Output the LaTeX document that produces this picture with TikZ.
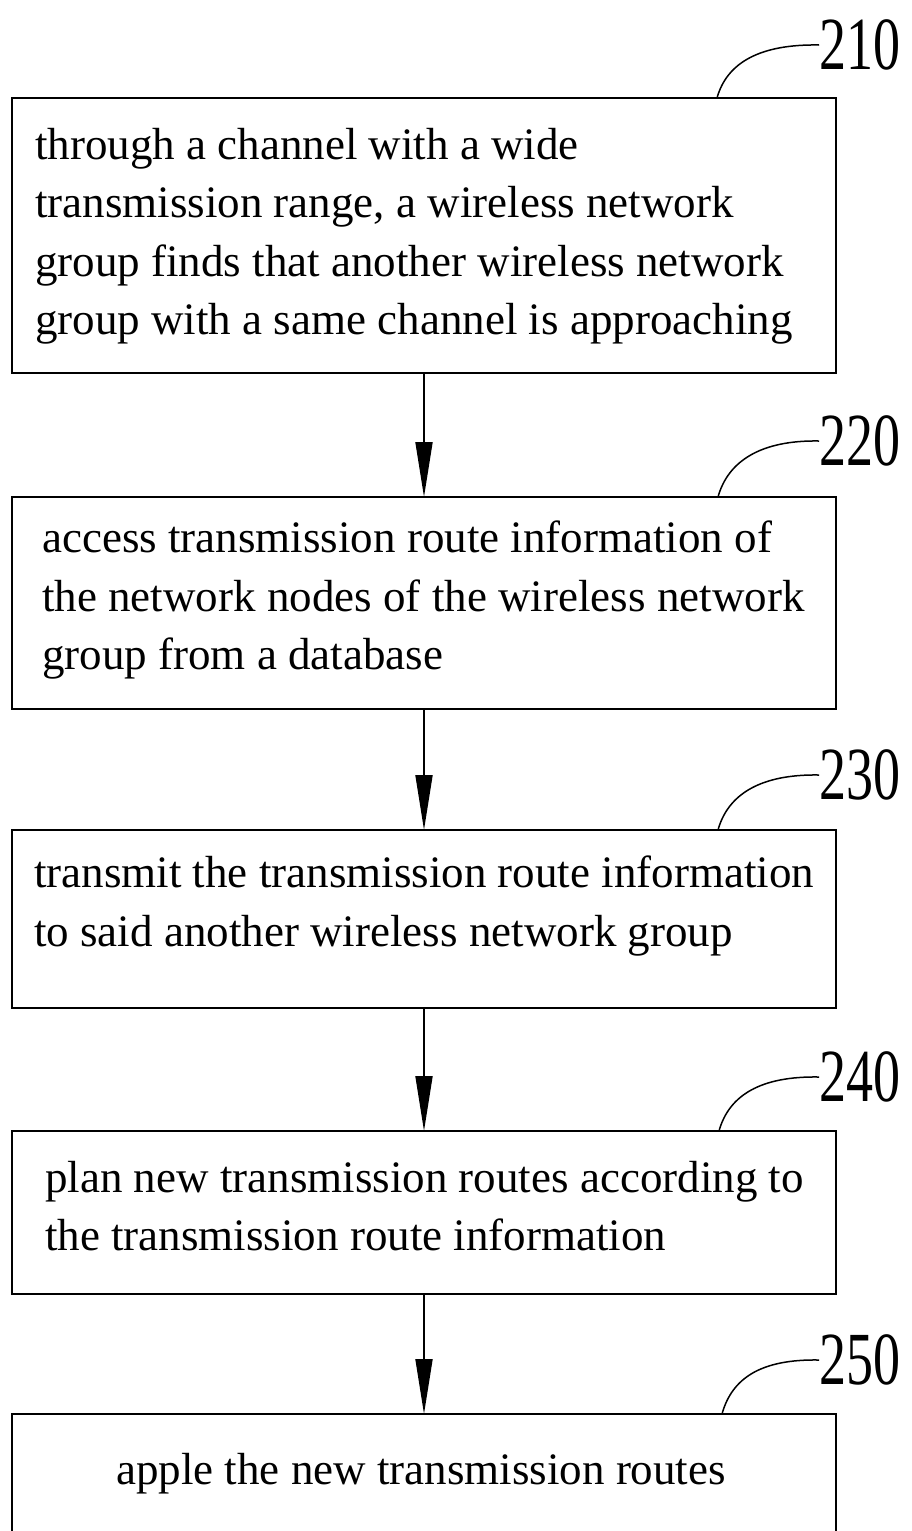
\documentclass[tikz,border=0pt]{standalone}
\usepackage{fontspec}
\setmainfont{Liberation Serif}
\newfontfamily\labelfont{Liberation Serif}[FakeStretch=0.72]
\usetikzlibrary{arrows.meta,calc}
\begin{document}
\begin{tikzpicture}[x=1pt,y=-1pt,
 box/.style={draw=black,line width=1.8pt,minimum width=824pt,inner sep=0pt,outer sep=0pt},
 txt/.style={align=left,inner sep=0pt,anchor=north west,font=\fontsize{45}{58.5}\selectfont},
 lbl/.style={inner sep=0pt,anchor=west,font=\labelfont\fontsize{75}{80}\selectfont},
 flow/.style={line width=1.8pt,-{Triangle[length=55pt,width=17pt]}},
 lead/.style={line width=1.5pt}]
\useasboundingbox (0,0) rectangle (912,1531);
\clip (0,0) rectangle (912,1531);
% boxes
\node[box,minimum height=275pt] (b210) at (424,235.5) {};
\node[box,minimum height=212pt] (b220) at (424,603) {};
\node[box,minimum height=178pt] (b230) at (424,919) {};
\node[box,minimum height=163pt] (b240) at (424,1212.5) {};
\node[box,minimum height=126pt] (b250) at (424,1477) {};
% texts
\node[txt] (t210) at (35,128) {through a channel with a wide\\transmission range, a wireless network\\group finds that another wireless network\\group with a same channel is approaching};
\node[txt] (t220) at (42,521) {access transmission route information of\\the network nodes of the wireless network\\group from a database};
\node[txt] (t230) at (34,856) {transmit the transmission route information\\to said another wireless network group};
\node[txt] (t240) at (45,1161) {plan new transmission routes according to\\the transmission route information};
\node[txt,anchor=north] (t250) at (421,1453) {apple the new transmission routes};
% arrows
\draw[flow] (b210.south) -- (b220.north);
\draw[flow] (b220.south) -- (b230.north);
\draw[flow] (b230.south) -- (b240.north);
\draw[flow] (b240.south) -- (b250.north);
% labels
\node[lbl] (l210) at (819,45) {210};
\node[lbl] (l220) at (819,441) {220};
\node[lbl] (l230) at (819,775) {230};
\node[lbl] (l240) at (819,1077) {240};
\node[lbl] (l250) at (819,1360) {250};
\coordinate (c210) at (717,98);
\coordinate (c220) at (718,497);
\coordinate (c230) at (718,830);
\coordinate (c240) at (719,1131);
\coordinate (c250) at (722,1414);
\foreach \n in {210,220,230,240,250}{
  \draw[lead] (l\n.west) .. controls ($(l\n.west)+(-58,-1)$) and ($(c\n)+(10,-36)$) .. (c\n);
}
\end{tikzpicture}
\end{document}
